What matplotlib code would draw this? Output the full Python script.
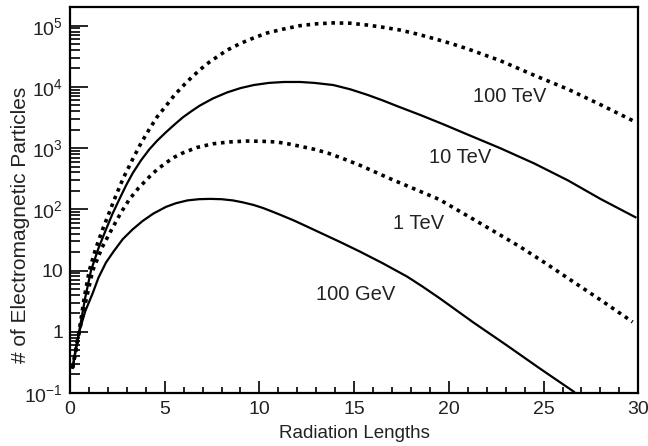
import numpy as np
import matplotlib
matplotlib.use("Agg")
import matplotlib.pyplot as plt
from matplotlib.ticker import LogLocator, NullFormatter, FixedLocator, MultipleLocator

plt.rcParams['font.family'] = ['Liberation Sans', 'DejaVu Sans']
plt.rcParams['mathtext.default'] = 'regular'

# shower profiles (x in radiation lengths, log10 of particle count)
x_100gev = [0.14, 0.3, 0.49, 0.8, 1.2, 1.5, 1.9, 2.3, 2.78, 3.3, 3.84, 4.4, 5.07, 5.6,
            6.2, 6.8, 7.4, 8.0, 8.6, 9.1, 9.7, 10.2, 10.7, 11.1, 11.8, 12.5, 13.4, 14.3,
            15.3, 16.5, 17.8, 18.6, 19.5, 20.4, 21.3, 23.0, 24.8, 26.6]
lg_100gev = [-0.59, -0.28, 0.0, 0.33, 0.63, 0.88, 1.13, 1.31, 1.51, 1.67, 1.81, 1.93, 2.04, 2.10,
             2.145, 2.165, 2.17, 2.165, 2.145, 2.115, 2.07, 2.02, 1.96, 1.91, 1.82, 1.72, 1.59, 1.46,
             1.31, 1.12, 0.90, 0.74, 0.55, 0.35, 0.15, -0.21, -0.60, -0.98]

x_1tev = [0.14, 0.5, 0.8, 1.2, 1.7, 2.25, 2.7, 3.13, 3.6, 4.19, 4.6, 5.07, 5.5, 5.95, 6.7,
          7.54, 8.4, 9.35, 10.2, 10.9, 11.5, 12.15, 12.9, 13.6, 14.4, 15.3, 16.1, 16.9,
          18.2, 19.5, 20.5, 21.5, 22.6, 23.8, 25.1, 26.5, 28.1, 29.7]
lg_1tev = [-0.59, 0.02, 0.45, 1.0, 1.38, 1.70, 1.95, 2.16, 2.34, 2.53, 2.65, 2.76, 2.85, 2.92, 3.01,
           3.07, 3.10, 3.115, 3.11, 3.10, 3.07, 3.03, 2.98, 2.92, 2.83, 2.72, 2.61, 2.50,
           2.33, 2.16, 1.98, 1.80, 1.60, 1.38, 1.12, 0.83, 0.50, 0.16]

x_10tev = [0.14, 0.5, 0.8, 1.11, 1.5, 1.9, 2.25, 2.6, 2.96, 3.31, 3.75, 4.19, 4.6, 5.07, 5.5,
           5.95, 6.4, 6.83, 7.54, 8.3, 9.0, 9.7, 10.5, 11.3, 12.15, 12.9, 13.9, 14.8, 15.7,
           16.5, 17.4, 18.5, 19.7, 21.0, 22.7, 24.5, 26.3, 28.0, 29.85]
lg_10tev = [-0.59, 0.03, 0.55, 1.0, 1.36, 1.67, 1.93, 2.16, 2.39, 2.59, 2.80, 2.98, 3.12, 3.26, 3.38,
            3.50, 3.60, 3.69, 3.81, 3.91, 3.98, 4.03, 4.065, 4.08, 4.08, 4.065, 4.03, 3.96, 3.87,
            3.78, 3.67, 3.54, 3.39, 3.22, 3.00, 2.75, 2.47, 2.17, 1.87]

x_100tev = [0.14, 0.5, 0.75, 1.02, 1.35, 1.72, 2.05, 2.34, 2.8, 3.31, 3.75, 4.19, 4.6, 5.07,
            5.5, 5.95, 6.4, 6.83, 7.2, 7.62, 8.29, 9.0, 9.7, 10.4, 11.2, 12.15, 13.0, 13.9,
            14.8, 15.7, 16.5, 17.4, 18.3, 19.2, 20.1, 21.0, 22.7, 24.5, 26.3, 28.0, 29.7]
lg_100tev = [-0.59, 0.04, 0.55, 1.0, 1.35, 1.67, 1.93, 2.16, 2.50, 2.82, 3.08, 3.31, 3.51, 3.69,
             3.86, 4.01, 4.15, 4.27, 4.37, 4.46, 4.60, 4.71, 4.80, 4.88, 4.94, 5.00, 5.03, 5.045,
             5.04, 5.01, 4.975, 4.93, 4.865, 4.79, 4.71, 4.62, 4.43, 4.19, 3.96, 3.71, 3.45]

labels = ['100 GeV', '1 TeV', '10 TeV', '100 TeV']
label_x = [15.1, 18.4, 20.6, 23.2]
label_lg = [0.60, 1.77, 2.84, 3.85]

ytick_vals = [0.1, 1, 10, 100, 1e3, 1e4, 1e5]
ytick_txt = ['$10^{-1}$', '1', '10', '$10^{2}$', '$10^{3}$', '$10^{4}$', '$10^{5}$']

fig = plt.figure(figsize=(6.48, 4.46), dpi=100)
ax = fig.add_axes([0.108, 0.119, 0.877, 0.866])

dot = (0, (1.0, 1.3))
ax.plot(x_100gev, 10 ** np.array(lg_100gev), color='black', lw=1.6)
ax.plot(x_1tev, 10 ** np.array(lg_1tev), color='black', lw=2.6, linestyle=dot,
        dash_capstyle='butt')
ax.plot(x_10tev, 10 ** np.array(lg_10tev), color='black', lw=1.6)
ax.plot(x_100tev, 10 ** np.array(lg_100tev), color='black', lw=2.6, linestyle=dot,
        dash_capstyle='butt')

for t, lx, ly in zip(labels, label_x, label_lg):
    ax.text(lx, 10 ** ly, t, ha='center', va='center', fontsize=14.5, color='#222222')

ax.set_yscale('log')
ax.set_xlim(0, 30)
ax.set_ylim(0.1, 10 ** 5.31)

ax.xaxis.set_major_locator(MultipleLocator(5))
ax.xaxis.set_minor_locator(MultipleLocator(1))
ax.yaxis.set_major_locator(FixedLocator(ytick_vals))
ax.set_yticklabels(ytick_txt)
ax.yaxis.set_minor_locator(LogLocator(base=10, subs=range(2, 10)))
ax.yaxis.set_minor_formatter(NullFormatter())

ax.tick_params(axis='both', which='both', direction='in', top=False, right=False,
               width=1.2, labelsize=14, colors='black', labelcolor='#222222')
ax.tick_params(axis='x', which='major', length=9, pad=6)
ax.tick_params(axis='x', which='minor', length=4.5)
ax.tick_params(axis='y', which='major', length=13, pad=5)
ax.tick_params(axis='y', which='minor', length=7)

for s in ax.spines.values():
    s.set_linewidth(1.6)

ax.set_xlabel('Radiation Lengths', fontsize=13.5, va='center', color='#222222')
ax.xaxis.set_label_coords(0.5, -0.105)
ax.set_ylabel('# of Electromagnetic Particles', fontsize=15, va='center', color='#222222')
ax.yaxis.set_label_coords(-0.0863, 0.435)

fig.savefig('out.png', dpi=100)
